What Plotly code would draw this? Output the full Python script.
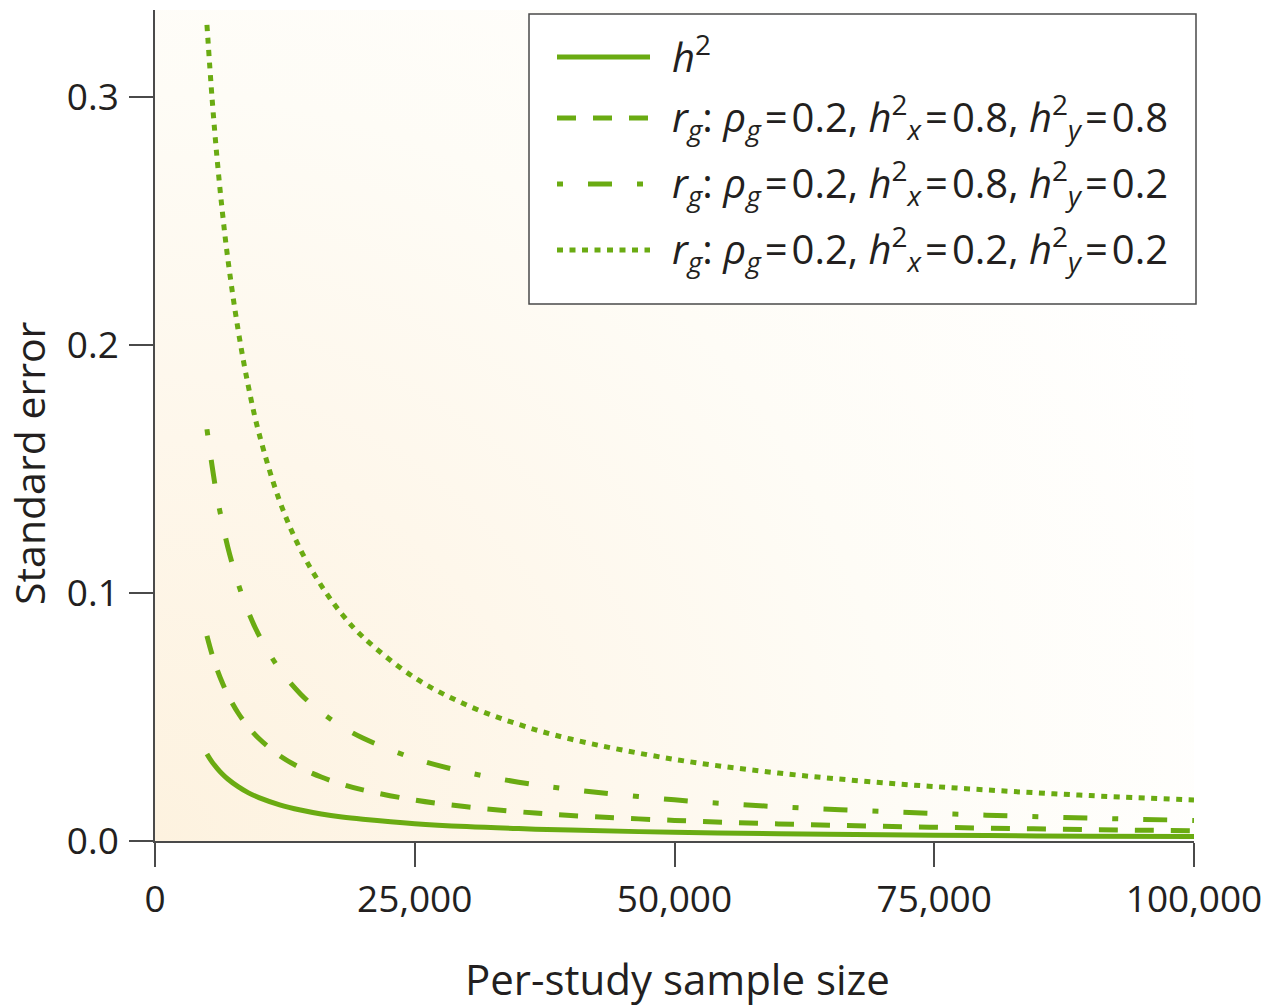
import base64
import plotly.graph_objects as go

# Per-study sample size (x) and standard error of each estimate (y)
sample_size = [5000, 5500, 6000, 6500, 7000, 8000, 9000, 10000, 12000, 14000, 16000,
               18000, 20000, 25000, 30000, 35000, 40000, 50000, 60000, 70000, 80000,
               90000, 100000]

se_h2 = [0.0351, 0.0318, 0.0292, 0.0269, 0.0250, 0.0219, 0.0194, 0.0175, 0.0146,
         0.0125, 0.0109, 0.0097, 0.0088, 0.0070, 0.0058, 0.0050, 0.0044, 0.0035,
         0.0029, 0.0025, 0.0022, 0.0019, 0.0018]

se_rg_08_08 = [0.0827, 0.0751, 0.0689, 0.0636, 0.0590, 0.0516, 0.0459, 0.0413,
               0.0344, 0.0295, 0.0258, 0.0229, 0.0206, 0.0165, 0.0138, 0.0118,
               0.0103, 0.0083, 0.0069, 0.0059, 0.0052, 0.0046, 0.0041]

se_rg_08_02 = [0.1660, 0.1510, 0.1380, 0.1280, 0.1186, 0.1038, 0.0922, 0.0830,
               0.0692, 0.0593, 0.0519, 0.0461, 0.0415, 0.0332, 0.0277, 0.0237,
               0.0208, 0.0166, 0.0138, 0.0119, 0.0104, 0.0092, 0.0083]

se_rg_02_02 = [0.3290, 0.2990, 0.2740, 0.2530, 0.2350, 0.2060, 0.1830, 0.1645,
               0.1370, 0.1175, 0.1030, 0.0914, 0.0823, 0.0658, 0.0548, 0.0470,
               0.0411, 0.0329, 0.0274, 0.0235, 0.0206, 0.0183, 0.0165]

EQ = "\u200a=\u200a"
series_names = [
    "<i>h</i><sup>2</sup>",
    f"<i>r</i><sub><i>g</i></sub>: <i>ρ</i><sub><i>g</i></sub>{EQ}0.2, "
    f"<i>h</i><sup>2</sup><sub><i>x</i></sub>{EQ}0.8, <i>h</i><sup>2</sup><sub><i>y</i></sub>{EQ}0.8",
    f"<i>r</i><sub><i>g</i></sub>: <i>ρ</i><sub><i>g</i></sub>{EQ}0.2, "
    f"<i>h</i><sup>2</sup><sub><i>x</i></sub>{EQ}0.8, <i>h</i><sup>2</sup><sub><i>y</i></sub>{EQ}0.2",
    f"<i>r</i><sub><i>g</i></sub>: <i>ρ</i><sub><i>g</i></sub>{EQ}0.2, "
    f"<i>h</i><sup>2</sup><sub><i>x</i></sub>{EQ}0.2, <i>h</i><sup>2</sup><sub><i>y</i></sub>{EQ}0.2",
]
series_values = [se_h2, se_rg_08_08, se_rg_08_02, se_rg_02_02]

x_tick_vals = [0, 25000, 50000, 75000, 100000]
x_tick_text = ["0", "25,000", "50,000", "75,000", "100,000"]
y_tick_vals = [0.0, 0.1, 0.2, 0.3]
y_tick_text = ["0.0", "0.1", "0.2", "0.3"]

GREEN = "#6aab12"
AXIS = "#4a4a4a"
TEXT = "#231f20"
FONT = "Open Sans"
dash_styles = ["solid", "19px,17px", "6px,25px,24px,25px", "6px,6.5px"]

W, H = 1272, 1006
ML, MR, MT, MB = 155, 78, 10, 165
PW, PH = W - ML - MR, H - MT - MB


def px_x(px):
    return (px - ML) / PW


def px_y(py):
    return (H - MB - py) / PH


fig = go.Figure()
for name, vals, dash in zip(series_names, series_values, dash_styles):
    fig.add_trace(go.Scatter(
        x=sample_size, y=vals, name=name, mode="lines", showlegend=False,
        line=dict(color=GREEN, width=5, dash=dash, shape="spline"),
    ))

# soft warm glow spreading from the origin of the plot area
svg = (
    f'<svg xmlns="http://www.w3.org/2000/svg" width="{PW}" height="{PH}" '
    f'viewBox="0 0 {PW} {PH}" preserveAspectRatio="none">'
    '<defs><radialGradient id="g" gradientUnits="userSpaceOnUse" '
    f'cx="0" cy="{PH}" r="1150">'
    '<stop offset="0" stop-color="#fdf2df"/>'
    '<stop offset="0.35" stop-color="#fef7eb"/>'
    '<stop offset="0.65" stop-color="#fefcf6"/>'
    '<stop offset="1" stop-color="#ffffff"/>'
    '</radialGradient></defs>'
    f'<rect width="{PW}" height="{PH}" fill="url(#g)"/></svg>'
)
bg_src = "data:image/svg+xml;base64," + base64.b64encode(svg.encode()).decode()

# legend box drawn by hand so the line samples keep their full length
shapes = [dict(type="rect", xref="paper", yref="paper",
               x0=px_x(529), x1=px_x(1196), y0=px_y(304), y1=px_y(14),
               line=dict(color=AXIS, width=1.5), fillcolor="white", layer="above")]
annotations = []
row_y = [57, 118, 184, 250]
for name, dash, ry in zip(series_names, dash_styles, row_y):
    shapes.append(dict(type="line", xref="paper", yref="paper",
                       x0=px_x(557), x1=px_x(650), y0=px_y(ry), y1=px_y(ry),
                       line=dict(color=GREEN, width=5, dash=dash), layer="above"))
    annotations.append(dict(xref="paper", yref="paper", x=px_x(670), y=px_y(ry - 2),
                            xanchor="left", yanchor="middle", showarrow=False,
                            text=name, font=dict(family=FONT, size=40, color=TEXT)))

annotations.append(dict(xref="paper", yref="paper", x=px_x(677), y=px_y(979),
                        xanchor="center", yanchor="middle", showarrow=False,
                        text="Per-study sample size",
                        font=dict(family=FONT, size=42, color=TEXT)))
annotations.append(dict(xref="paper", yref="paper", x=px_x(29), y=px_y(463),
                        xanchor="center", yanchor="middle", showarrow=False,
                        textangle=-90, text="Standard error",
                        font=dict(family=FONT, size=41, color=TEXT)))

axis_common = dict(showline=True, linecolor=AXIS, linewidth=1.5, ticks="outside",
                   ticklen=24, tickwidth=1.5, tickcolor=AXIS, showgrid=False,
                   zeroline=False, tickfont=dict(family=FONT, size=37, color=TEXT))

fig.update_layout(
    width=W, height=H,
    margin=dict(l=ML, r=MR, t=MT, b=MB),
    paper_bgcolor="white", plot_bgcolor="rgba(0,0,0,0)",
    xaxis=dict(range=[0, 100000], tickvals=x_tick_vals, ticktext=x_tick_text,
               ticklabelstandoff=1, **axis_common),
    yaxis=dict(range=[0, 0.335], tickvals=y_tick_vals, ticktext=y_tick_text,
               ticklabelstandoff=3, **axis_common),
    images=[dict(source=bg_src, xref="paper", yref="paper", x=0, y=1,
                 sizex=1, sizey=1, xanchor="left", yanchor="top",
                 sizing="stretch", layer="below")],
    shapes=shapes,
    annotations=annotations,
)

fig.write_html("out.html")
